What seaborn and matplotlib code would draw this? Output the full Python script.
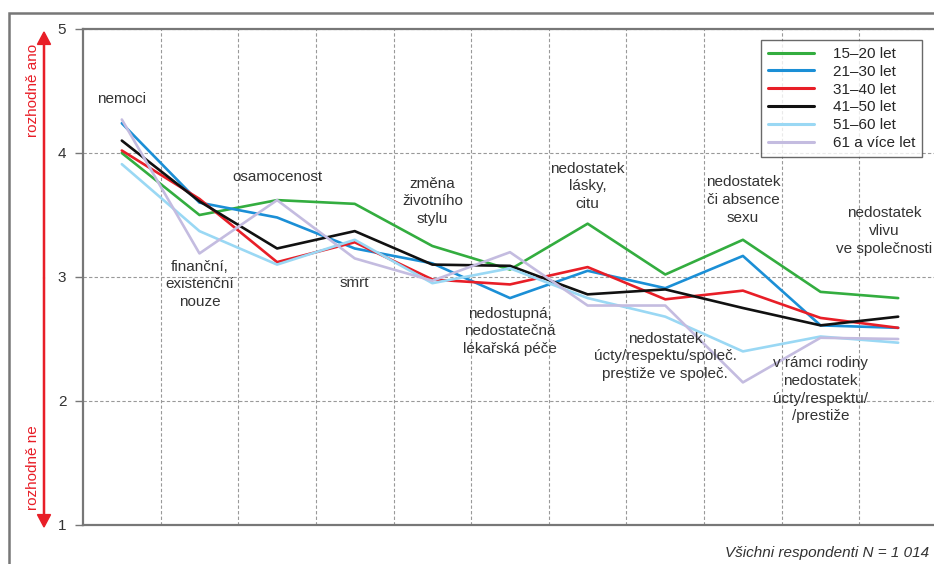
import pandas as pd
import matplotlib.pyplot as plt
import matplotlib.patches as mpatches
import seaborn as sns

# categories (x axis, shown as in-plot labels)
categories = [
    "nemoci",
    "finanční,\nexistenční\nnouze",
    "osamocenost",
    "smrt",
    "změna\nživotního\nstylu",
    "nedostupná,\nnedostatečná\nlékařská péče",
    "nedostatek\nlásky,\ncitu",
    "nedostatek\núcty/respektu/společ.\nprestiže ve společ.",
    "nedostatek\nči absence\nsexu",
    "v rámci rodiny\nnedostatek\núcty/respektu/\n/prestiže",
    "nedostatek\nvlivu\nve společnosti",
]

groups = ["15–20 let", "21–30 let", "31–40 let", "41–50 let", "51–60 let", "61 a více let"]

v_15_20 = [4.00, 3.50, 3.62, 3.59, 3.25, 3.06, 3.43, 3.02, 3.30, 2.88, 2.83]
v_21_30 = [4.24, 3.60, 3.48, 3.23, 3.11, 2.83, 3.05, 2.91, 3.17, 2.61, 2.59]
v_31_40 = [4.02, 3.63, 3.12, 3.28, 2.98, 2.94, 3.08, 2.82, 2.89, 2.67, 2.59]
v_41_50 = [4.10, 3.61, 3.23, 3.37, 3.10, 3.09, 2.86, 2.90, 2.75, 2.61, 2.68]
v_51_60 = [3.91, 3.37, 3.10, 3.30, 2.95, 3.07, 2.83, 2.68, 2.40, 2.52, 2.47]
v_61 = [4.27, 3.19, 3.62, 3.15, 2.97, 3.20, 2.77, 2.77, 2.15, 2.51, 2.50]

colors = ["#33ad3f", "#1b8fd6", "#e81e27", "#111111", "#9ad8f4", "#c4bce0"]

# layout of the in-plot category labels (top of text, data units)
label_top = [4.49, 3.14, 3.86, 3.01, 3.81, 2.76, 3.93, 2.56, 3.82, 2.36, 3.57]

rows = []
for g, vals in zip(groups, [v_15_20, v_21_30, v_31_40, v_41_50, v_51_60, v_61]):
    for i, v in enumerate(vals):
        rows.append({"x": i, "value": v, "group": g})
df = pd.DataFrame(rows)

sns.set_style("white")
plt.rcParams["font.family"] = ["Liberation Sans", "DejaVu Sans"]

fig = plt.figure(figsize=(9.34, 5.64), dpi=100)
ax = fig.add_axes([83 / 934, 1 - 525 / 564, (937 - 83) / 934, (525 - 29) / 564])

# outer frame
fig.patches.append(mpatches.Rectangle((9 / 934, -0.05), 1.1, 1 - 13 / 564 + 0.05,
                                      transform=fig.transFigure, fill=False,
                                      edgecolor="#777777", linewidth=1.8))

sns.lineplot(data=df, x="x", y="value", hue="group", hue_order=groups,
             palette=dict(zip(groups, colors)), linewidth=1.9, ax=ax, sort=False)

ax.set_xlim(-0.5, 10.5)
ax.set_ylim(1, 5)
ax.set_yticks([1, 2, 3, 4, 5])
ax.set_xticks([i + 0.5 for i in range(10)])
ax.set_xticklabels([])
ax.tick_params(axis="x", length=0)
ax.tick_params(axis="y", length=6, width=1, color="#777777", labelsize=11,
               labelcolor="#333333", pad=6, left=True)
ax.grid(True, linestyle=(0, (3, 2)), color="#999999", linewidth=0.8)
ax.set_xlabel("")
ax.set_ylabel("")
for s in ["left", "bottom", "top"]:
    ax.spines[s].set_visible(True)
    ax.spines[s].set_color("#777777")
    ax.spines[s].set_linewidth(1.6)
ax.spines["right"].set_visible(False)

for i, (lab, ty) in enumerate(zip(categories, label_top)):
    if i == 10:
        ax.text(10.44, ty, lab, ha="right", va="top", fontsize=11, color="#333333",
                linespacing=1.33, multialignment="center")
    else:
        ax.text(i, ty, lab, ha="center", va="top", fontsize=11, color="#333333",
                linespacing=1.33)

leg = ax.legend(loc="upper right", bbox_to_anchor=((922 - 83) / 854, 1 - 11 / 496),
                frameon=True, fancybox=False, fontsize=11, handlelength=3.0,
                handletextpad=1.25, borderpad=0.45, labelspacing=0.25,
                borderaxespad=0)
leg.get_frame().set_edgecolor("#444444")
leg.get_frame().set_linewidth(1.0)
for h in leg.get_lines():
    h.set_linewidth(2.2)

# red arrow on the left
fig.patches.append(mpatches.FancyArrow(44 / 934, 1 - 278 / 564, 0, (278 - 32) / 564,
                                       width=0.0012, head_width=0.014, head_length=0.022,
                                       length_includes_head=True, color="#e81e27",
                                       transform=fig.transFigure))
fig.patches.append(mpatches.FancyArrow(44 / 934, 1 - 278 / 564, 0, -(527 - 278) / 564,
                                       width=0.0012, head_width=0.014, head_length=0.022,
                                       length_includes_head=True, color="#e81e27",
                                       transform=fig.transFigure))
fig.text(33 / 934, 1 - 90 / 564, "rozhodně ano", rotation=90, ha="center", va="center",
         color="#e81e27", fontsize=11)
fig.text(33 / 934, 1 - 468 / 564, "rozhodně ne", rotation=90, ha="center", va="center",
         color="#e81e27", fontsize=11)

fig.text(929 / 934, 1 - 553 / 564, "Všichni respondenti N = 1 014", ha="right", va="center",
         style="italic", fontsize=11, color="#333333")

fig.savefig("out.png", dpi=100)
